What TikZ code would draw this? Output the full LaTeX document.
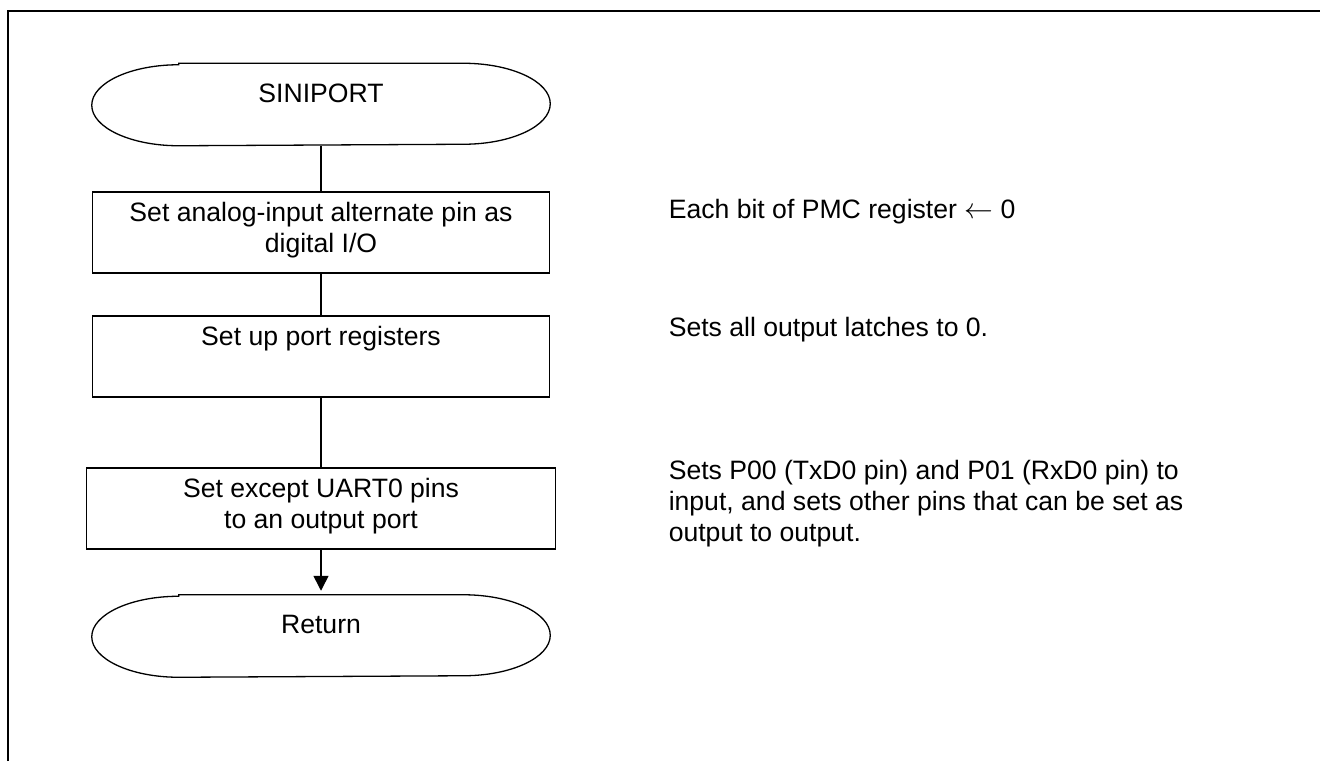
\documentclass[tikz,border=0pt]{standalone}
\usepackage{fontspec}
\setmainfont{Liberation Sans}
\usepackage{tikz}
\usetikzlibrary{arrows.meta}
\usetikzlibrary{positioning}

\begin{document}
\begin{tikzpicture}[x=0.5pt,y=-0.5pt,-,line width=0.75pt,node distance=63pt,
	every node/.style={font=\fontsize{13.3pt}{15.5pt}\selectfont},
	term node/.style={minimum width=228.5pt, minimum height=40.5pt, inner xsep=0pt, inner ysep=4.7pt, text height=14.5pt, text depth=16.6pt},
	box node/.style={draw, line width=0.65pt, minimum width=228.5pt, minimum height=40.5pt, inner xsep=0pt, inner ysep=4.7pt, text height=25.5pt, text depth=5.6pt, align=center},
	single/.style={text height=10pt, text depth=21.1pt},
	note node/.style={anchor=west, align=left, inner sep=0pt}]
			
			\useasboundingbox (0,0) rectangle (1320,761);
			\draw[line width=1pt] (8,761) -- (8,11) -- (1320,11);
			
			\node[term node] (1) at (321,104.5) {SINIPORT};
			\node[box node] (2) [below of=1, yshift=-1pt] {Set analog-input alternate pin as\\digital I/O};
			\node[box node, single] (3) [below of=2, yshift=1pt] {Set up port registers};
			\node[box node, minimum width=234.5pt] (4) [below of=3, yshift=-13pt] {Set except UART0 pins\\to an output port};
			\node[term node] (5) [below of=4, yshift=-0.75pt] {Return};
			
			% terminal outlines
			\foreach \t in {1,5}
			\draw[line width=0.65pt] ([xshift=43.5pt]\t.north west) -- ([xshift=-43.5pt]\t.north east)
			arc[start angle=90, end angle=-90, x radius=43.5pt, y radius=20.25pt]
			-- ([xshift=43.5pt]\t.south west)
			arc[start angle=270, end angle=90, x radius=43.5pt, y radius=20.25pt] -- cycle;
			
			\node[note node] (n1) at (668,212) {Each bit of PMC register $\leftarrow$ 0};
			\node[note node] (n2) at (668,330) {Sets all output latches to 0.};
			\node[note node] (n3) at (668,504) {Sets P00 (TxD0 pin) and P01 (RxD0 pin) to\\input, and sets other pins that can be set as\\output to output.};
			
			\path
			(1) edge (2)
			(2) edge (3)
			(3) edge (4)
			(4) edge[-{Triangle[length=7.5pt,width=7.5pt]}, shorten >=2pt] (5);
			
		\end{tikzpicture}
\end{document}
